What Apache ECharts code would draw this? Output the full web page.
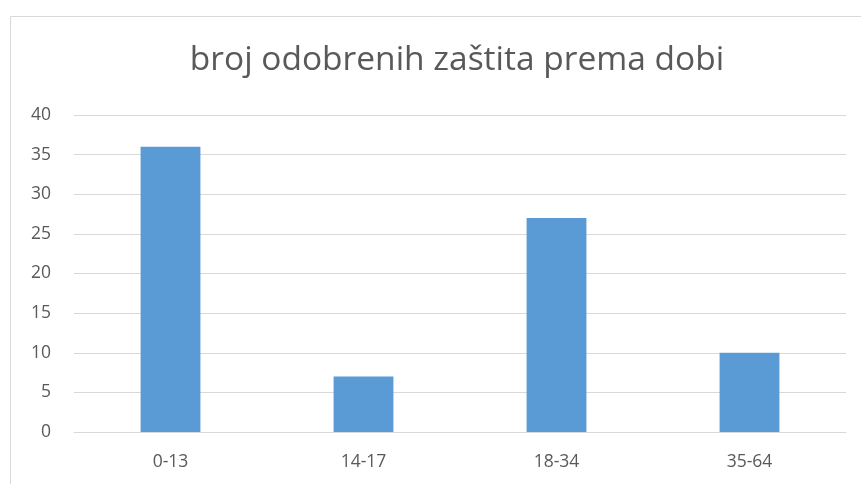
<!DOCTYPE html>
<html>
<head>
<meta charset="utf-8">
<script src="https://cdn.jsdelivr.net/npm/echarts@6/dist/echarts.min.js"></script>
<style>
  html, body { margin: 0; padding: 0; background: #fff; }
  #chart { width: 861px; height: 484px; }
</style>
</head>
<body>
<div id="chart"></div>
<script>
// podaci
const categories = ['0-13', '14-17', '18-34', '35-64']
const values = [36, 7, 27, 10]
const yTicks = { min: 0, max: 40, interval: 5 }

const chart = echarts.init(document.getElementById('chart'))
chart.setOption({
  animation: false,
  textStyle: { fontFamily: 'Open Sans, Noto Sans, sans-serif' },
  title: {
    text: 'broj odobrenih zaštita prema dobi',
    left: 452,
    textAlign: 'center',
    top: 38,
    textStyle: { fontSize: 33.5, fontWeight: 'normal', color: '#595959' }
  },
  graphic: [{
    type: 'rect',
    shape: { x: 10.5, y: 16.5, width: 900, height: 500 },
    style: { fill: 'none', stroke: '#d9d9d9', lineWidth: 1 },
    silent: true
  }],
  grid: { left: 74, right: 15, top: 115, bottom: 52 },
  xAxis: {
    type: 'category',
    data: categories,
    axisLine: { lineStyle: { color: '#d9d9d9', width: 1 } },
    axisTick: { show: false },
    axisLabel: { color: '#595959', fontSize: 17.5, margin: 21 }
  },
  yAxis: {
    type: 'value',
    min: yTicks.min,
    max: yTicks.max,
    interval: yTicks.interval,
    axisLine: { show: false },
    axisTick: { show: false },
    axisLabel: { color: '#595959', fontSize: 17.5, margin: 23 },
    splitLine: { lineStyle: { color: '#d9d9d9', width: 1 } }
  },
  series: [{
    type: 'bar',
    data: values,
    barWidth: '31%',
    itemStyle: { color: '#5b9bd5' }
  }]
})
</script>
</body>
</html>
